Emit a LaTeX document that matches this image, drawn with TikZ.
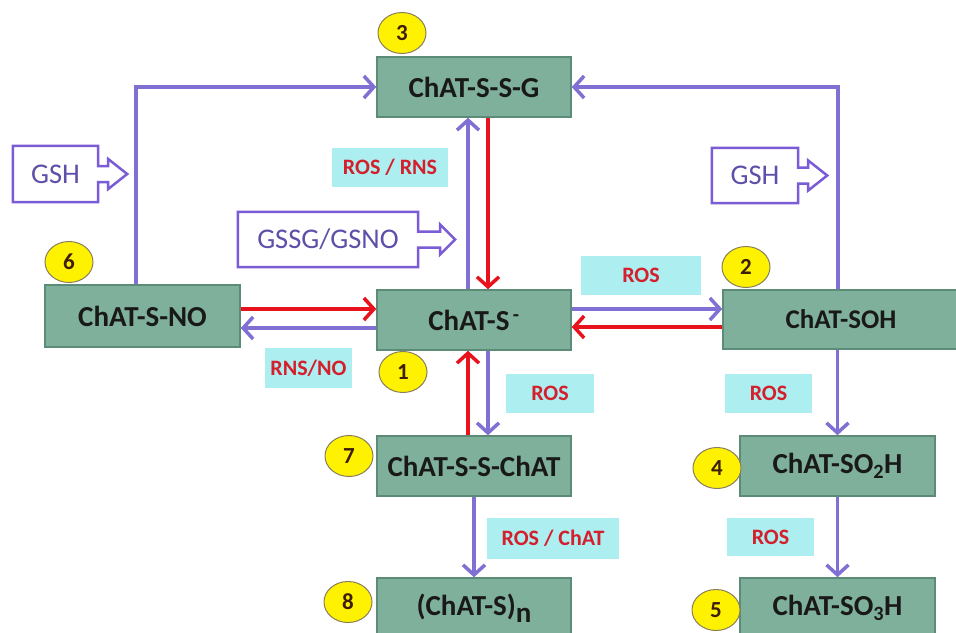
\documentclass[tikz,border=0pt]{standalone}
\usepackage{fontspec}
\setmainfont{Carlito}
\usetikzlibrary{arrows.meta,shapes.geometric}
\definecolor{boxfill}{HTML}{7FB09B}
\definecolor{boxdraw}{HTML}{5C8C78}
\definecolor{pur}{HTML}{8070D4}
\definecolor{redl}{HTML}{E8121C}
\definecolor{cyanf}{HTML}{ADEEF0}
\definecolor{redt}{HTML}{D41F2C}
\definecolor{yel}{HTML}{FFF200}
\definecolor{yeldraw}{HTML}{8A7F5A}
\definecolor{numc}{HTML}{3D1F05}
\definecolor{gtext}{HTML}{5E4FA8}
\definecolor{gdraw}{HTML}{7A5CD6}
\begin{document}
\begin{tikzpicture}[x=1pt,y=-1pt,
  mainbox/.style={draw=boxdraw, line width=1.5pt, fill=boxfill, minimum width=194pt, minimum height=60pt, inner sep=0pt, font=\fontsize{29}{32}\selectfont\bfseries, text=black!90},
  lab/.style={fill=cyanf, inner sep=0pt, minimum height=39pt, font=\fontsize{22}{24}\selectfont\bfseries, text=redt},
  num/.style={ellipse, draw=yeldraw, line width=1pt, fill=yel, minimum width=48pt, minimum height=41pt, inner sep=0pt, font=\fontsize{23}{25}\selectfont\bfseries, text=numc},
  parr/.style={draw=pur, line width=3.5pt, -{Straight Barb[length=10pt,width=22pt]}},
  rarr/.style={draw=redl, line width=3.5pt, -{Straight Barb[length=10pt,width=22pt]}},
  gline/.style={draw=gdraw, line width=2.5pt, line join=miter},
  gtxt/.style={inner sep=0pt, font=\fontsize{28.5}{31}\selectfont, text=gtext}]
\path[use as bounding box] (0,0) rectangle (956,632);
\clip (0,0) rectangle (956,632);
\fill[white] (0,0) rectangle (956,632);

% main boxes
\node[mainbox] (n3) at (474,87) {ChAT-S-S-G};
\node[mainbox] (n1) at (474,320) {ChAT-S\textsuperscript{\,-}};
\node[mainbox, minimum width=195pt, minimum height=62pt] (n6) at (142.5,316) {ChAT-S-NO};
\node[mainbox, minimum width=236pt, minimum height=59pt, font=\fontsize{27}{30}\selectfont\bfseries] (n2) at (841,319.5) {ChAT-SOH};
\node[mainbox] (n7) at (474,466) {ChAT-S-S-ChAT};
\node[mainbox] (n8) at (474,608) {(ChAT-S)\raisebox{-7pt}{n}};
\node[mainbox, minimum width=195pt] (n4) at (837.5,466) {ChAT-SO\textsubscript{2}H};
\node[mainbox, minimum width=195pt] (n5) at (837.5,608) {ChAT-SO\textsubscript{3}H};

% labels
\node[lab, minimum width=116pt] (l1) at (390,167.5) {ROS / RNS};
\node[lab, minimum width=120pt] (l2) at (641,275.5) {ROS};
\node[lab, minimum width=87pt, minimum height=40pt] (l3) at (308.5,368) {RNS/NO};
\node[lab, minimum width=88pt] (l4) at (550,393.5) {ROS};
\node[lab, minimum width=87pt] (l5) at (768.5,393.5) {ROS};
\node[lab, minimum width=132pt, minimum height=41pt] (l6) at (553,538.5) {ROS / ChAT};
\node[lab, minimum width=87pt, minimum height=38pt] (l7) at (770.5,537) {ROS};

% outline callouts
\node[gtxt, minimum width=85pt, minimum height=56pt] (g1) at (55.5,174) {GSH};
\node[gtxt, minimum width=180pt, minimum height=55pt] (g2) at (328,239.5) {GSSG/GSNO};
\node[gtxt, minimum width=86pt, minimum height=55pt] (g3) at (755,175.5) {GSH};
\draw[gline] (g1.north west) -- (g1.north east) -- ([yshift=8pt]g1.east) -- ++(10pt,0pt) -- ++(0pt,7pt) -- ++(19pt,-15pt) -- ++(-19pt,-15pt) -- ++(0pt,7pt) -- ++(-10pt,0pt) -- (g1.south east) -- (g1.south west) -- cycle;
\draw[gline] (g2.north west) -- (g2.north east) -- ([yshift=8pt]g2.east) -- ++(22pt,0pt) -- ++(0pt,7pt) -- ++(15pt,-15pt) -- ++(-15pt,-15pt) -- ++(0pt,7pt) -- ++(-22pt,0pt) -- (g2.south east) -- (g2.south west) -- cycle;
\draw[gline] (g3.north west) -- (g3.north east) -- ([yshift=8pt]g3.east) -- ++(10pt,0pt) -- ++(0pt,7pt) -- ++(19pt,-15pt) -- ++(-19pt,-15pt) -- ++(0pt,7pt) -- ++(-10pt,0pt) -- (g3.south east) -- (g3.south west) -- cycle;

% connectors
\draw[parr] ([xshift=-6.5pt]n6.north) |- (n3.west);
\draw[parr] ([xshift=-3pt]n2.north) |- (n3.east);
\draw[parr] ([xshift=-6pt]n1.north) -- ([xshift=-6pt]n3.south);
\draw[rarr] ([xshift=14pt]n3.south) -- ([xshift=14pt]n1.north);
\coordinate (a1) at ([yshift=7pt]n6.east);
\draw[rarr] (a1) -- (a1 -| n1.west);
\coordinate (a2) at ([yshift=-8pt]n1.west);
\draw[parr] (a2) -- (a2 -| n6.east);
\coordinate (a3) at ([yshift=11pt]n1.east);
\draw[parr] (a3) -- (a3 -| n2.west);
\coordinate (a4) at ([yshift=-7pt]n1.east);
\draw[rarr] (a4 -| n2.west) -- (a4);
\draw[parr] ([xshift=14pt]n1.south) -- ([xshift=14pt]n7.north);
\draw[rarr] ([xshift=-6pt]n7.north) -- ([xshift=-6pt]n1.south);
\draw[parr] (n7.south) -- (n8.north);
\draw[parr] (n4.north |- n2.south) -- (n4.north);
\draw[parr] (n4.south) -- (n5.north);

% numbers
\node[num] (c3) at (402,33) {3};
\node[num] (c6) at (69,262) {6};
\node[num] (c2) at (746,267) {2};
\node[num] (c1) at (403,372) {1};
\node[num] (c7) at (349,456) {7};
\node[num] (c8) at (348,602) {8};
\node[num] (c4) at (717,468) {4};
\node[num] (c5) at (716,610) {5};
\end{tikzpicture}
\end{document}
